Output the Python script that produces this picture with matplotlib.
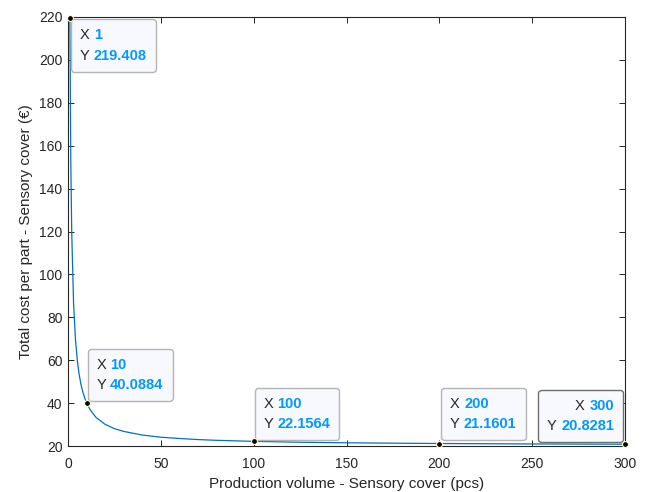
import matplotlib
matplotlib.use("Agg")
import matplotlib.pyplot as plt
from matplotlib.offsetbox import TextArea, HPacker, VPacker, AnnotationBbox

plt.rcParams['font.family'] = ['Liberation Sans', 'DejaVu Sans']

# curve values
volume = [1, 1.5, 2, 3, 4, 5, 6, 7, 8, 9, 10, 12, 15, 20, 25, 30, 40, 50, 60, 70,
          80, 100, 125, 150, 200, 250, 300]
cost = [219.4, 153.0, 119.8, 86.6, 70.0, 60.0, 53.4, 48.6, 45.1, 42.3, 40.09, 36.8,
        33.4, 30.1, 28.1, 26.8, 25.1, 24.1, 23.5, 23.0, 22.65, 22.16, 21.76, 21.49,
        21.16, 20.96, 20.83]

# data tips
tip_x = [1, 10, 100, 200, 300]
tip_y = [219.408, 40.0884, 22.1564, 21.1601, 20.8281]
tip_xlabels = ["1", "10", "100", "200", "300"]
tip_ylabels = ["219.408", "40.0884", "22.1564", "21.1601", "20.8281"]

xticks = [0, 50, 100, 150, 200, 250, 300]
yticks = [20, 40, 60, 80, 100, 120, 140, 160, 180, 200, 220]

fig = plt.figure(figsize=(6.45, 4.92), dpi=100)
ax = fig.add_axes([68/645, 46/492, 557/645, 429/492])

ax.plot(volume, cost, color='#0072BD', lw=0.9)
ax.set_xlim(0, 300)
ax.set_ylim(20, 220)
ax.set_xticks(xticks)
ax.set_yticks(yticks)
ax.tick_params(direction='in', top=True, right=True, labelsize=10, length=4,
               width=0.7, colors='#262626', labelcolor='#262626', pad=4)
ax.tick_params(axis='x', pad=8)
for s in ax.spines.values():
    s.set_linewidth(0.8)
    s.set_color('#262626')
ax.set_xlabel("Production volume - Sensory cover (pcs)", fontsize=11, color='#262626', labelpad=4)
ax.set_ylabel("Total cost per part - Sensory cover (\u20ac)", fontsize=11, color='#262626', labelpad=4)

ax.scatter(tip_x, tip_y, s=18, color='black', edgecolors='#FFFFC8', linewidths=0.8,
           zorder=8, clip_on=False)

blue = '#0099FF'
# offsets in pixels and box alignment per tip
offsets = [(1, -1), (1, 2), (1, 1.5), (2, 3.5), (-2, 2)]
aligns = [(0, 1), (0, 0), (0, 0), (0, 0), (1, 0)]
edges = ['#B4B4B4', '#B4B4B4', '#B4B4B4', '#B4B4B4', '#6E6E6E']
for i in range(len(tip_x)):
    lx = HPacker(children=[TextArea("X ", textprops=dict(color='#262626', fontsize=10.5)),
                           TextArea(tip_xlabels[i], textprops=dict(color=blue, fontsize=10.5, weight='bold'))],
                 pad=0, sep=0)
    ly = HPacker(children=[TextArea("Y ", textprops=dict(color='#262626', fontsize=10.5)),
                           TextArea(tip_ylabels[i], textprops=dict(color=blue, fontsize=10.5, weight='bold'))],
                 pad=0, sep=0)
    al = 'right' if i == 4 else 'left'
    vp = VPacker(children=[lx, ly], pad=6.5, sep=4.5, align=al)
    ab = AnnotationBbox(vp, (tip_x[i], tip_y[i]), xybox=offsets[i], xycoords='data',
                        boxcoords='offset pixels', box_alignment=aligns[i], pad=0,
                        bboxprops=dict(boxstyle='round,pad=0,rounding_size=0.25',
                                       facecolor='#F8F8FF', edgecolor=edges[i], lw=1.0),
                        annotation_clip=False, zorder=6)
    ax.add_artist(ab)

fig.savefig("out.png", dpi=100)
